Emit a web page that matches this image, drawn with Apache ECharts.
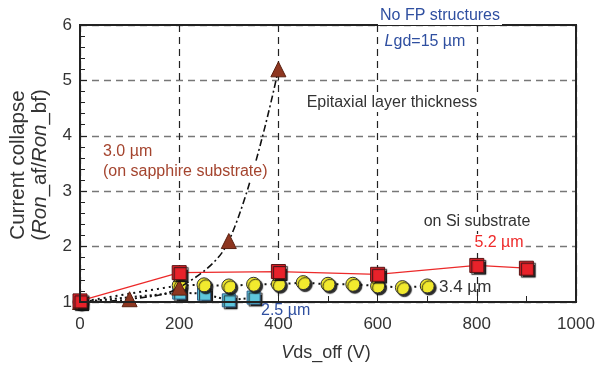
<!DOCTYPE html>
<html>
<head>
<meta charset="utf-8">
<script src="https://cdn.jsdelivr.net/npm/echarts@6/dist/echarts.min.js"></script>
<style>
  html, body { margin: 0; padding: 0; background: #fff; }
  #chart { width: 598px; height: 365px; }
</style>
</head>
<body>
<div id="chart"></div>
<script>
// Current collapse vs. off-state drain voltage for several epitaxial layer thicknesses
const xTicks = [0, 200, 400, 600, 800, 1000];
const yTicks = [1, 2, 3, 4, 5, 6];

// 5.2 µm on Si substrate
const vRed = [0, 200, 400, 600, 800, 900];
const cRed = [1.02, 1.53, 1.55, 1.50, 1.66, 1.61];

// 3.4 µm on Si substrate
const vYellow = [0, 200, 250, 300, 350, 400, 450, 500, 550, 600, 650, 700];
const cYellow = [1.0, 1.30, 1.31, 1.29, 1.32, 1.32, 1.35, 1.32, 1.32, 1.29, 1.26, 1.29];

// 2.5 µm on Si substrate
const vCyan = [0, 200, 250, 300, 350];
const cCyan = [1.0, 1.17, 1.15, 1.03, 1.08];

// 3.0 µm on sapphire substrate
const vTri = [0, 100, 200, 300, 400];
const cTri = [1.0, 1.05, 1.26, 2.1, 5.2];

const pairs = (xs, ys) => xs.map((x, i) => [x, ys[i]]);

const FONT = 'Liberation Sans, Arial, sans-serif';
const shadow = { shadowColor: 'rgba(20,20,20,0.9)', shadowBlur: 1, shadowOffsetX: 2, shadowOffsetY: 2 };

const chart = echarts.init(document.getElementById('chart'));

function label(text, x, y, color, size, align, bg) {
  return {
    type: 'text', x: x, y: y, z: 50,
    style: {
      text: text, fill: color, font: size + 'px ' + FONT,
      textAlign: align || 'left', textVerticalAlign: 'middle',
      backgroundColor: bg === false ? 'transparent' : '#fff', padding: [1, 2],
      rich: { i: { fontStyle: 'italic', fontSize: size, fontFamily: FONT, fill: color } }
    }
  };
}

chart.setOption({
  animation: false,
  backgroundColor: '#fff',
  grid: { left: 80, right: 22, top: 25, bottom: 63, show: true, borderColor: '#222', borderWidth: 2, z: 10 },
  xAxis: {
    type: 'value', min: xTicks[0], max: xTicks[xTicks.length - 1], interval: 200,
    axisLine: { show: true, lineStyle: { color: '#222', width: 2 } },
    axisTick: { show: true, inside: true, length: 6, lineStyle: { color: '#222', width: 1 } },
    minorTick: { show: true, splitNumber: 2, length: 6, lineStyle: { color: '#222', width: 1 } },
    splitLine: { show: true, lineStyle: { color: '#222', type: [7, 5], width: 1.2 } },
    axisLabel: { color: '#333', fontSize: 17, fontFamily: FONT, margin: 14, formatter: v => String(v) }
  },
  yAxis: {
    type: 'value', min: yTicks[0], max: yTicks[yTicks.length - 1], interval: 1,
    axisLine: { show: true, lineStyle: { color: '#222', width: 2 } },
    axisTick: { show: true, inside: true, length: 7, lineStyle: { color: '#222', width: 1 } },
    minorTick: { show: true, splitNumber: 5, length: 5, lineStyle: { color: '#222', width: 1 } },
    splitLine: { show: true, lineStyle: { color: '#777', type: [7, 5], width: 1.4 } },
    axisLabel: { color: '#333', fontSize: 17, fontFamily: FONT, margin: 8, formatter: v => String(v) }
  },
  series: [
    {
      type: 'line', data: pairs(vCyan, cCyan), z: 3,
      symbol: 'rect', symbolSize: 13,
      lineStyle: { color: '#111', width: 2, type: [2, 3] },
      itemStyle: Object.assign({ color: '#5ec6dc', borderColor: '#2c5d86', borderWidth: 1 }, shadow)
    },
    {
      type: 'line', data: pairs(vYellow, cYellow), z: 4,
      symbol: 'circle', symbolSize: 14,
      lineStyle: { color: '#111', width: 2, type: [2, 4] },
      itemStyle: Object.assign({ color: '#f2ea2e', borderColor: '#333', borderWidth: 1 }, shadow)
    },
    {
      type: 'line', data: pairs(vTri, cTri), z: 5, smooth: 0.35,
      symbol: 'triangle', symbolSize: 15,
      lineStyle: { color: '#111', width: 1.6, type: [7, 3, 2, 3] },
      itemStyle: { color: '#8e3620', borderColor: '#5a2010', borderWidth: 1 }
    },
    {
      type: 'line', data: pairs(vRed, cRed), z: 6,
      symbol: 'rect', symbolSize: 14,
      lineStyle: { color: '#ec2a2a', width: 1.3 },
      itemStyle: Object.assign({ color: '#e8222a', borderColor: '#5a1414', borderWidth: 1 }, shadow)
    }
  ],
  graphic: [
    label('No FP structures', 440, 16, '#2f4fa0', 16, 'center'),
    label('{i|L}gd=15 µm', 425, 42, '#2f4fa0', 16, 'center'),
    label('Epitaxial layer thickness', 392, 103, '#333', 16, 'center'),
    label('3.0 µm', 101, 152, '#a4442e', 16, 'left'),
    label('(on sapphire substrate)', 101, 172, '#a4442e', 16, 'left'),
    label('on Si substrate', 477, 222, '#333', 16, 'center'),
    label('5.2 µm', 499, 243, '#ee2a2a', 16, 'center'),
    label('3.4 µm', 437, 287, '#333', 17, 'left', false),
    label('2.5 µm', 259, 311, '#2f4fa0', 16, 'left', false),
    {
      type: 'text', x: 18, y: 165, rotation: Math.PI / 2, z: 50,
      style: { text: 'Current collapse', fill: '#333', font: '20.5px ' + FONT, textAlign: 'center', textVerticalAlign: 'middle' }
    },
    {
      type: 'text', x: 40, y: 165, rotation: Math.PI / 2, z: 50,
      style: {
        text: '({i|Ron}_af/{i|Ron}_bf)', fill: '#333', font: '20.5px ' + FONT,
        textAlign: 'center', textVerticalAlign: 'middle',
        rich: { i: { fontStyle: 'italic', fontSize: 20.5, fontFamily: FONT, fill: '#333' } }
      }
    },
    {
      type: 'text', x: 326, y: 353, z: 50,
      style: {
        text: '{i|V}ds_off (V)', fill: '#333', font: '18px ' + FONT,
        textAlign: 'center', textVerticalAlign: 'middle',
        rich: { i: { fontStyle: 'italic', fontSize: 18, fontFamily: FONT, fill: '#333' } }
      }
    }
  ]
});
</script>
</body>
</html>
